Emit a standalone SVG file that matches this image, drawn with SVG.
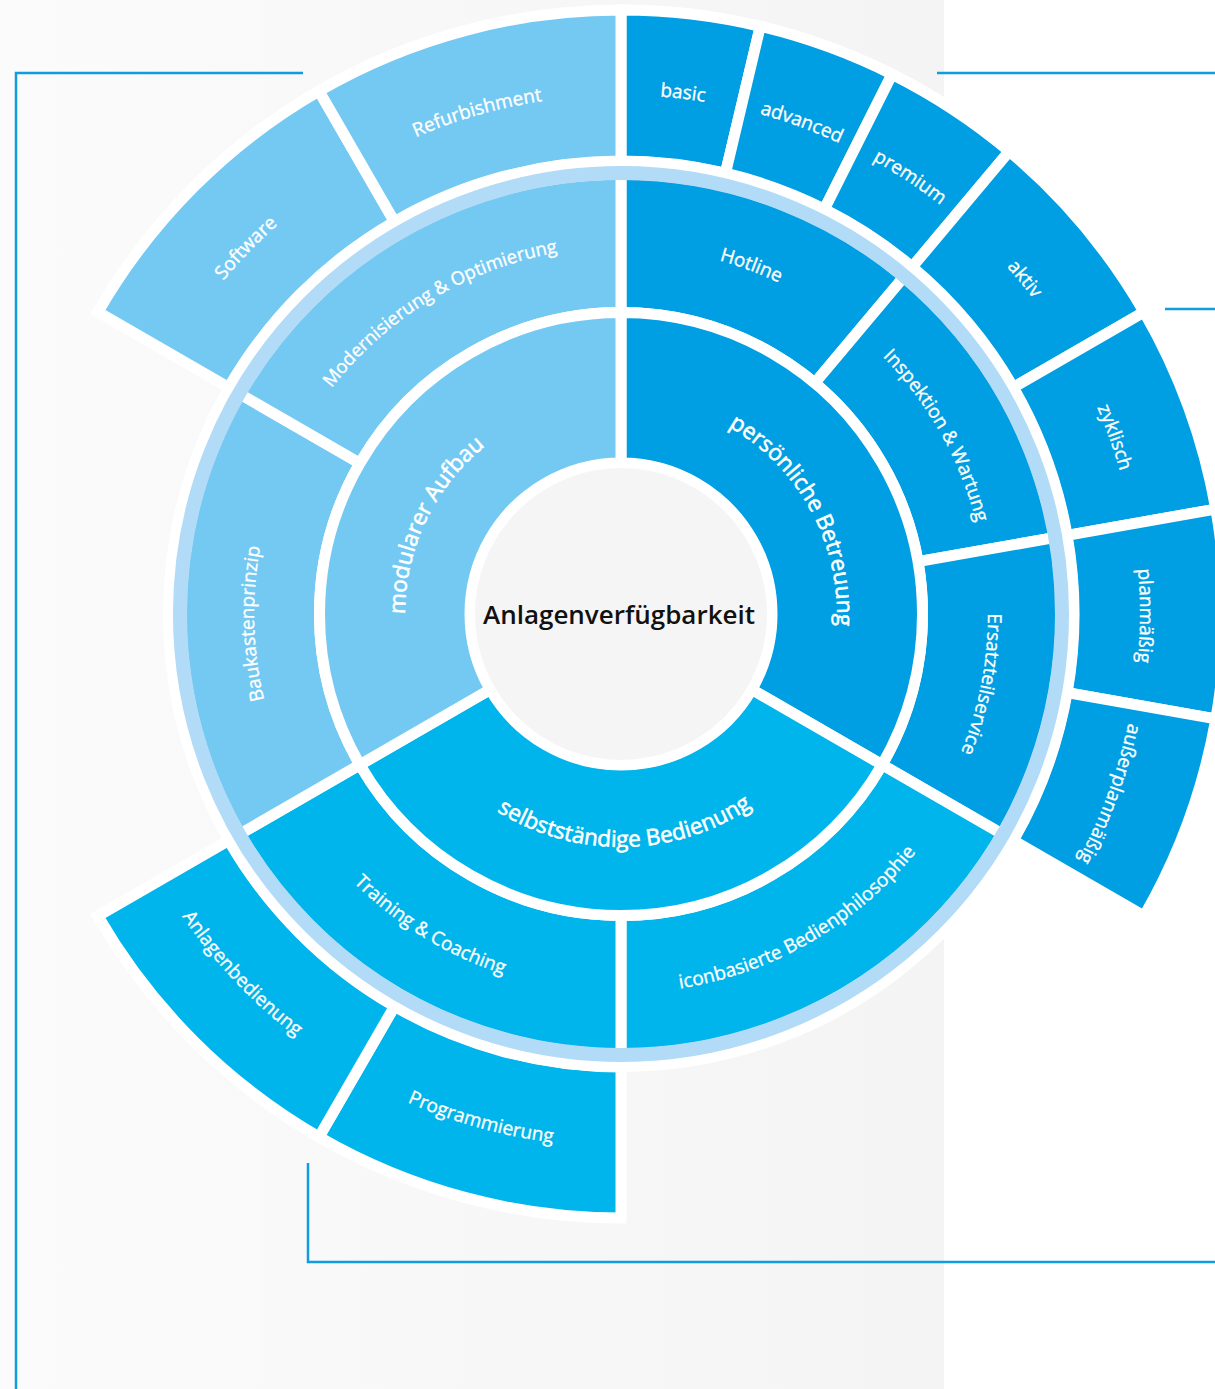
<svg xmlns="http://www.w3.org/2000/svg" xmlns:xlink="http://www.w3.org/1999/xlink" width="1215" height="1389" viewBox="0 0 1215 1389">
<style>
.seg{stroke:#ffffff;stroke-width:11;stroke-linejoin:miter}
.light{fill:#74c9f3}
.dark{fill:#009ee2}
.cyan{fill:#00b5eb}
.lbl{fill:#ffffff;stroke:#ffffff;stroke-width:0.35px;font-family:"Open Sans","Noto Sans",sans-serif;font-size:19px;font-weight:400}
.lbl1{fill:#ffffff;stroke:#ffffff;stroke-width:0.6px;font-family:"Open Sans","Noto Sans",sans-serif;font-size:22.5px;font-weight:400}
.conn{fill:none;stroke:#0f9de0;stroke-width:2.5}
</style>
<defs>
<linearGradient id="bg" x1="0" y1="0" x2="1" y2="0">
<stop offset="0" stop-color="#fbfbfb"/>
<stop offset="1" stop-color="#f4f4f4"/>
</linearGradient>
<path id="cw216" d="M 405,614 A 216,216 0 0 1 837,614"/>
<path id="ccw233" d="M 388,614 A 233,233 0 0 0 854,614"/>
<path id="cw367" d="M 254,614 A 367,367 0 0 1 988,614"/>
<path id="ccw379" d="M 242,614 A 379,379 0 0 0 1000,614"/>
<path id="cw519" d="M 102,614 A 519,519 0 0 1 1140,614"/>
<path id="ccw533" d="M 88,614 A 533,533 0 0 0 1154,614"/>
</defs>
<rect x="0" y="0" width="1215" height="1389" fill="#ffffff"/>
<rect x="0" y="0" width="944" height="1389" fill="url(#bg)"/>

<g id="connectors">
<polyline class="conn" points="303,73 16,73 16,1389"/>
<line class="conn" x1="937" y1="73" x2="1215" y2="73"/>
<line class="conn" x1="1165" y1="309" x2="1215" y2="309"/>
<polyline class="conn" points="308,1163 308,1262 1215,1262"/>
</g>

<!-- outer ring -->
<g id="basic"><path class="seg dark" d="M 621,10 A 604 604 0 0 1 760.29,26.28 L 725.47,173.21 A 453 453 0 0 0 621,161 Z"/>
<text class="lbl" transform="rotate(6.8 621 614)"><textPath xlink:href="#cw519" href="#cw519" startOffset="50%" text-anchor="middle">basic</textPath></text></g>
<g id="advanced"><path class="seg dark" d="M 760.29,26.28 A 604 604 0 0 1 892.07,74.25 L 824.30,209.19 A 453 453 0 0 0 725.47,173.21 Z"/>
<text class="lbl" transform="rotate(20.2 621 614)"><textPath xlink:href="#cw519" href="#cw519" startOffset="50%" text-anchor="middle">advanced</textPath></text></g>
<g id="premium"><path class="seg dark" d="M 892.07,74.25 A 604 604 0 0 1 1009.25,151.31 L 912.18,266.98 A 453 453 0 0 0 824.30,209.19 Z"/>
<text class="lbl" transform="rotate(33.5 621 614)"><textPath xlink:href="#cw519" href="#cw519" startOffset="50%" text-anchor="middle">premium</textPath></text></g>
<g id="aktiv"><path class="seg dark" d="M 1009.25,151.31 A 604 604 0 0 1 1144.08,312 L 1013.31,387.5 A 453 453 0 0 0 912.18,266.98 Z"/>
<text class="lbl" transform="rotate(50.3 621 614)"><textPath xlink:href="#cw519" href="#cw519" startOffset="50%" text-anchor="middle">aktiv</textPath></text></g>
<g id="zyklisch"><path class="seg dark" d="M 1144.08,312 A 604 604 0 0 1 1215.83,509.12 L 1067.12,535.34 A 453 453 0 0 0 1013.31,387.5 Z"/>
<text class="lbl" transform="rotate(70.3 621 614)"><textPath xlink:href="#cw519" href="#cw519" startOffset="50%" text-anchor="middle">zyklisch</textPath></text></g>
<g id="planmaessig"><path class="seg dark" d="M 1215.83,509.12 A 604 604 0 0 1 1215.83,718.88 L 1067.12,692.66 A 453 453 0 0 0 1067.12,535.34 Z"/>
<text class="lbl" transform="rotate(90.2 621 614)"><textPath xlink:href="#cw519" href="#cw519" startOffset="50%" text-anchor="middle">planmäßig</textPath></text></g>
<g id="ausserplanmaessig"><path class="seg dark" d="M 1215.83,718.88 A 604 604 0 0 1 1144.08,916 L 1013.31,840.5 A 453 453 0 0 0 1067.12,692.66 Z"/>
<text class="lbl" transform="rotate(110.2 621 614)"><textPath xlink:href="#cw519" href="#cw519" startOffset="50%" text-anchor="middle">außerplanmäßig</textPath></text></g>
<g id="programmierung"><path class="seg cyan" d="M 621,1218 A 604 604 0 0 1 319,1137.08 L 394.5,1006.31 A 453 453 0 0 0 621,1067 Z"/>
<text class="lbl" transform="rotate(15.5 621 614)"><textPath xlink:href="#ccw533" href="#ccw533" startOffset="50%" text-anchor="middle">Programmierung</textPath></text></g>
<g id="anlagenbedienung"><path class="seg cyan" d="M 319,1137.08 A 604 604 0 0 1 97.92,916 L 228.69,840.5 A 453 453 0 0 0 394.5,1006.31 Z"/>
<text class="lbl" transform="rotate(46.5 621 614)"><textPath xlink:href="#ccw533" href="#ccw533" startOffset="50%" text-anchor="middle">Anlagenbedienung</textPath></text></g>
<g id="software"><path class="seg light" d="M 97.92,312 A 604 604 0 0 1 319,90.92 L 394.5,221.69 A 453 453 0 0 0 228.69,387.5 Z"/>
<text class="lbl" transform="rotate(314.3 621 614)"><textPath xlink:href="#cw519" href="#cw519" startOffset="50%" text-anchor="middle">Software</textPath></text></g>
<g id="refurbishment"><path class="seg light" d="M 319,90.92 A 604 604 0 0 1 621,10 L 621,161 A 453 453 0 0 0 394.5,221.69 Z"/>
<text class="lbl" transform="rotate(344 621 614)"><textPath xlink:href="#cw519" href="#cw519" startOffset="50%" text-anchor="middle">Refurbishment</textPath></text></g>

<circle cx="621" cy="614" r="453" fill="none" stroke="#ffffff" stroke-width="10"/>

<!-- middle ring -->
<g id="hotline"><path class="seg dark" d="M 621,174 A 440 440 0 0 1 903.83,276.94 L 814.80,383.04 A 301.5 301.5 0 0 0 621,312.5 Z"/>
<text class="lbl" transform="rotate(20.5 621 614)"><textPath xlink:href="#cw367" href="#cw367" startOffset="50%" text-anchor="middle">Hotline</textPath></text></g>
<g id="inspektion"><path class="seg dark" d="M 903.83,276.94 A 440 440 0 0 1 1054.32,537.59 L 917.92,561.64 A 301.5 301.5 0 0 0 814.80,383.04 Z"/>
<text class="lbl" transform="rotate(60.5 621 614)"><textPath xlink:href="#cw367" href="#cw367" startOffset="50%" text-anchor="middle">Inspektion &amp; Wartung</textPath></text></g>
<g id="ersatzteilservice"><path class="seg dark" d="M 1054.32,537.59 A 440 440 0 0 1 1002.05,834 L 882.11,764.75 A 301.5 301.5 0 0 0 917.92,561.64 Z"/>
<text class="lbl" transform="rotate(101 621 614)"><textPath xlink:href="#cw367" href="#cw367" startOffset="50%" text-anchor="middle">Ersatzteilservice</textPath></text></g>
<g id="iconbasierte"><path class="seg cyan" d="M 1002.05,834 A 440 440 0 0 1 621,1054 L 621,915.5 A 301.5 301.5 0 0 0 882.11,764.75 Z"/>
<text class="lbl" transform="rotate(-30 621 614)"><textPath xlink:href="#ccw379" href="#ccw379" startOffset="50%" text-anchor="middle">iconbasierte Bedienphilosophie</textPath></text></g>
<g id="training"><path class="seg cyan" d="M 621,1054 A 440 440 0 0 1 239.95,834 L 359.89,764.75 A 301.5 301.5 0 0 0 621,915.5 Z"/>
<text class="lbl" transform="rotate(31.5 621 614)"><textPath xlink:href="#ccw379" href="#ccw379" startOffset="50%" text-anchor="middle">Training &amp; Coaching</textPath></text></g>
<g id="baukastenprinzip"><path class="seg light" d="M 239.95,834 A 440 440 0 0 1 239.95,394 L 359.89,463.25 A 301.5 301.5 0 0 0 359.89,764.75 Z"/>
<text class="lbl" transform="rotate(268.5 621 614)"><textPath xlink:href="#cw367" href="#cw367" startOffset="50%" text-anchor="middle">Baukastenprinzip</textPath></text></g>
<g id="modernisierung"><path class="seg light" d="M 239.95,394 A 440 440 0 0 1 621,174 L 621,312.5 A 301.5 301.5 0 0 0 359.89,463.25 Z"/>
<text class="lbl" transform="rotate(329 621 614)" style="font-size:18.5px"><textPath xlink:href="#cw367" href="#cw367" startOffset="50%" text-anchor="middle">Modernisierung &amp; Optimierung</textPath></text></g>

<circle cx="621" cy="614" r="441" fill="none" stroke="#b1dbf6" stroke-width="14"/>

<!-- inner ring -->
<g id="persoenliche-betreuung"><path class="seg dark" d="M 621,312.5 A 301.5 301.5 0 0 1 882.11,764.75 L 751.77,689.5 A 151 151 0 0 0 621,463 Z"/>
<text class="lbl1" transform="rotate(61.5 621 614)"><textPath xlink:href="#cw216" href="#cw216" startOffset="50%" text-anchor="middle">persönliche Betreuung</textPath></text></g>
<g id="selbststaendige-bedienung"><path class="seg cyan" d="M 882.11,764.75 A 301.5 301.5 0 0 1 359.89,764.75 L 490.23,689.5 A 151 151 0 0 0 751.77,689.5 Z"/>
<text class="lbl1" transform="rotate(-1 621 614)"><textPath xlink:href="#ccw233" href="#ccw233" startOffset="50%" text-anchor="middle">selbstständige Bedienung</textPath></text></g>
<g id="modularer-aufbau"><path class="seg light" d="M 359.89,764.75 A 301.5 301.5 0 0 1 621,312.5 L 621,463 A 151 151 0 0 0 490.23,689.5 Z"/>
<text class="lbl1" transform="rotate(295.5 621 614)"><textPath xlink:href="#cw216" href="#cw216" startOffset="50%" text-anchor="middle">modularer Aufbau</textPath></text></g>

<g id="anlagenverfuegbarkeit">
<circle cx="621" cy="614" r="151" fill="#f5f5f5" stroke="#ffffff" stroke-width="10"/>
<text x="619" y="624" text-anchor="middle" font-family="'Open Sans','Noto Sans',sans-serif" font-size="26" font-weight="600" fill="#111111" textLength="272" lengthAdjust="spacingAndGlyphs">Anlagenverfügbarkeit</text>
</g>
</svg>
